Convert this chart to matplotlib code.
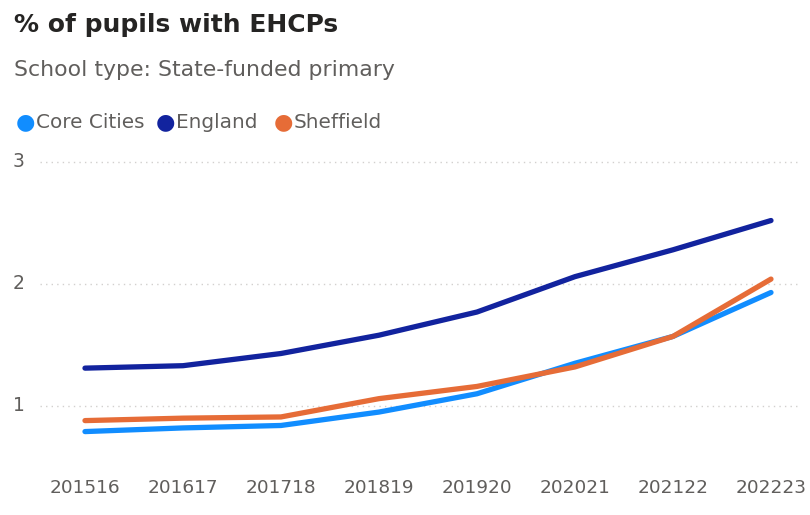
import matplotlib.pyplot as plt

# data
years = ['201516', '201617', '201718', '201819', '201920', '202021', '202122', '202223']
core_cities = [0.79, 0.82, 0.84, 0.95, 1.10, 1.35, 1.57, 1.93]
england = [1.31, 1.33, 1.43, 1.58, 1.77, 2.06, 2.28, 2.52]
sheffield = [0.88, 0.90, 0.91, 1.06, 1.16, 1.32, 1.57, 2.04]

series = [('Core Cities', core_cities, '#118DFF'),
          ('England', england, '#12239E'),
          ('Sheffield', sheffield, '#E66C37')]

W, H = 810, 515
fig = plt.figure(figsize=(W / 100, H / 100), dpi=100)
fig.patch.set_facecolor('white')

# axes area in pixels: x 40..800, y 150..445
ax = fig.add_axes([40 / W, 1 - 445 / H, 760 / W, 295 / H])
ax.set_facecolor('none')

x = list(range(len(years)))
for name, vals, col in series:
    ax.plot(x, vals, color=col, linewidth=3.8, solid_capstyle='round',
            solid_joinstyle='round', zorder=3)

ax.set_xlim(-0.459, 7.296)
ax.set_ylim(0.68, 3.098)

for v in [1, 2, 3]:
    ax.axhline(v, color='#D2D0CE', linewidth=1, linestyle=(0, (1, 3)), zorder=1)

for s in ax.spines.values():
    s.set_visible(False)
ax.set_xticks([])
ax.set_yticks([])

# y tick labels
for v in [1, 2, 3]:
    ax.text(-0.459 - 27 / 98, v, str(v), ha='left', va='center', fontsize=13.5,
            color='#605E5C', clip_on=False)

# x tick labels
for i, yr in enumerate(years):
    ax.text(i, 0.68 - 43 / 122, yr, ha='center', va='center', fontsize=13.3,
            color='#605E5C', clip_on=False)

# title, subtitle, legend
fig.text(14 / W, 1 - 25 / H, '% of pupils with EHCPs', fontsize=18, fontweight='bold',
         color='#252423', ha='left', va='center')
fig.text(14 / W, 1 - 70 / H, 'School type: State-funded primary', fontsize=15.8,
         color='#605E5C', ha='left', va='center')

leg_x = [25, 165, 283]
for (name, vals, col), lx in zip(series, leg_x):
    fig.text(lx / W, 1 - 122 / H, '\u25CF', fontsize=16, color=col, ha='center', va='center')
    fig.text((lx + 11) / W, 1 - 122 / H, name, fontsize=14.4, color='#605E5C',
             ha='left', va='center')

fig.savefig('out.png', dpi=100, facecolor='white')
